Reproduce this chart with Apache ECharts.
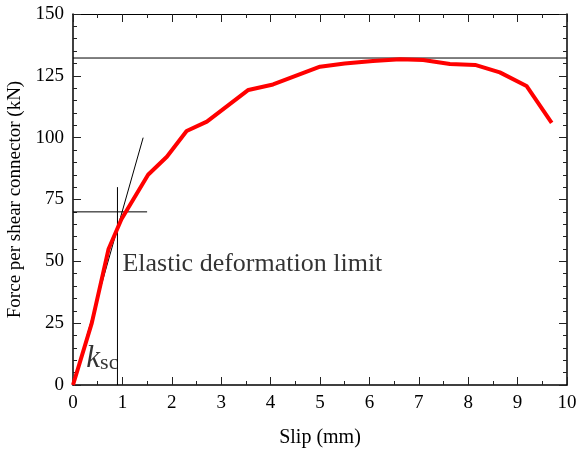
<!DOCTYPE html>
<html>
<head>
<meta charset="utf-8">
<script src="https://cdn.jsdelivr.net/npm/echarts@6/dist/echarts.min.js"></script>
<style>
  html, body { margin: 0; padding: 0; background: #fff; }
  #main { width: 577px; height: 452px; }
</style>
</head>
<body>
<div id="main"></div>
<script>
// measured curve (slip mm, force kN)
const slip = [0, 0.38, 0.72, 0.98, 1.52, 1.90, 2.30, 2.71, 3.55, 4.05, 5.0, 5.5, 6.07, 6.62, 7.09, 7.63, 8.14, 8.64, 9.18, 9.69];
const force = [0, 25, 55, 67, 85, 92.3, 102.7, 106.5, 119.3, 121.5, 128.7, 130, 131, 131.7, 131.4, 129.8, 129.4, 126.4, 120.9, 106];

// helper lines
const peakLine = [[0, 132.2], [10, 132.2]];
const tangentLine = [[0, 0], [1.42, 100]];
const limitH = [[0, 70], [1.5, 70]];
const limitV = [[0.9, 0], [0.9, 80]];

const xTicks = [0, 10, 1];
const yTicks = [0, 150, 25];

const serif = 'Liberation Serif';

var myChart = echarts.init(document.getElementById('main'));

const thin = { color: '#000', width: 1 };
function helper(data) {
  return {
    type: 'line', data: data, symbol: 'none', silent: true,
    lineStyle: thin, z: 1
  };
}

const tickStyle = { color: '#222' };

var option = {
  animation: false,
  grid: { left: 73, right: 10, top: 14, bottom: 67, outerBoundsMode: 'none', containLabel: false },
  xAxis: [
    {
      type: 'value', min: xTicks[0], max: xTicks[1], interval: xTicks[2],
      name: 'Slip (mm)', nameLocation: 'middle', nameGap: 43,
      nameTextStyle: { fontFamily: serif, fontSize: 20, color: '#000' },
      axisLine: { lineStyle: { color: '#000', width: 1.5 } },
      axisTick: { inside: true, length: 8, lineStyle: tickStyle },
      minorTick: { show: true, splitNumber: 2, length: 4, lineStyle: tickStyle },
      axisLabel: { fontFamily: serif, fontSize: 19, color: '#000', margin: 9 },
      splitLine: { show: false }
    },
    {
      type: 'value', position: 'top', min: xTicks[0], max: xTicks[1], interval: xTicks[2],
      axisLine: { onZero: false, lineStyle: { color: '#000', width: 1 } },
      axisTick: { inside: true, length: 8, lineStyle: tickStyle },
      minorTick: { show: true, splitNumber: 2, length: 4, lineStyle: tickStyle },
      axisLabel: { show: false }, splitLine: { show: false }
    }
  ],
  yAxis: [
    {
      type: 'value', min: yTicks[0], max: yTicks[1], interval: yTicks[2],
      name: 'Force per shear connector (kN)', nameLocation: 'middle', nameGap: 46,
      nameTextStyle: { fontFamily: serif, fontSize: 19, color: '#000' },
      axisLine: { show: true, lineStyle: { color: '#000', width: 1.5 } },
      axisTick: { show: true, inside: true, length: 8, lineStyle: tickStyle },
      minorTick: { show: true, splitNumber: 5, length: 4, lineStyle: tickStyle },
      axisLabel: { fontFamily: serif, fontSize: 19, color: '#000', margin: 9 },
      splitLine: { show: false }
    },
    {
      type: 'value', position: 'right', min: yTicks[0], max: yTicks[1], interval: yTicks[2],
      axisLine: { show: true, onZero: false, lineStyle: { color: '#000', width: 1.5 } },
      axisTick: { show: true, inside: true, length: 8, lineStyle: tickStyle },
      minorTick: { show: true, splitNumber: 5, length: 4, lineStyle: tickStyle },
      axisLabel: { show: false }, splitLine: { show: false }
    }
  ],
  series: [
    helper(peakLine),
    helper(tangentLine),
    helper(limitH),
    helper(limitV),
    {
      type: 'line', data: slip.map((s, i) => [s, force[i]]),
      symbol: 'none', z: 3,
      lineStyle: { color: '#ff0000', width: 4 }
    },
    {
      type: 'scatter', symbolSize: 0, silent: true, z: 4,
      data: [
        { value: [1.0, 43.6], label: { show: true, position: 'right', distance: 0, formatter: 'Elastic deformation limit',
          align: 'left', verticalAlign: 'bottom', fontFamily: serif, fontSize: 26, color: '#000' } },
        { value: [0.27, 4.4], label: { show: true, position: 'right', distance: 0, formatter: '{k|k}{s|sc}',
          align: 'left', verticalAlign: 'bottom',
          rich: {
            k: { fontFamily: serif, fontStyle: 'italic', fontSize: 31, color: '#000', verticalAlign: 'bottom' },
            s: { fontFamily: serif, fontSize: 22, color: '#000', verticalAlign: 'bottom' }
          } } }
      ]
    }
  ]
};

myChart.setOption(option);
</script>
</body>
</html>
